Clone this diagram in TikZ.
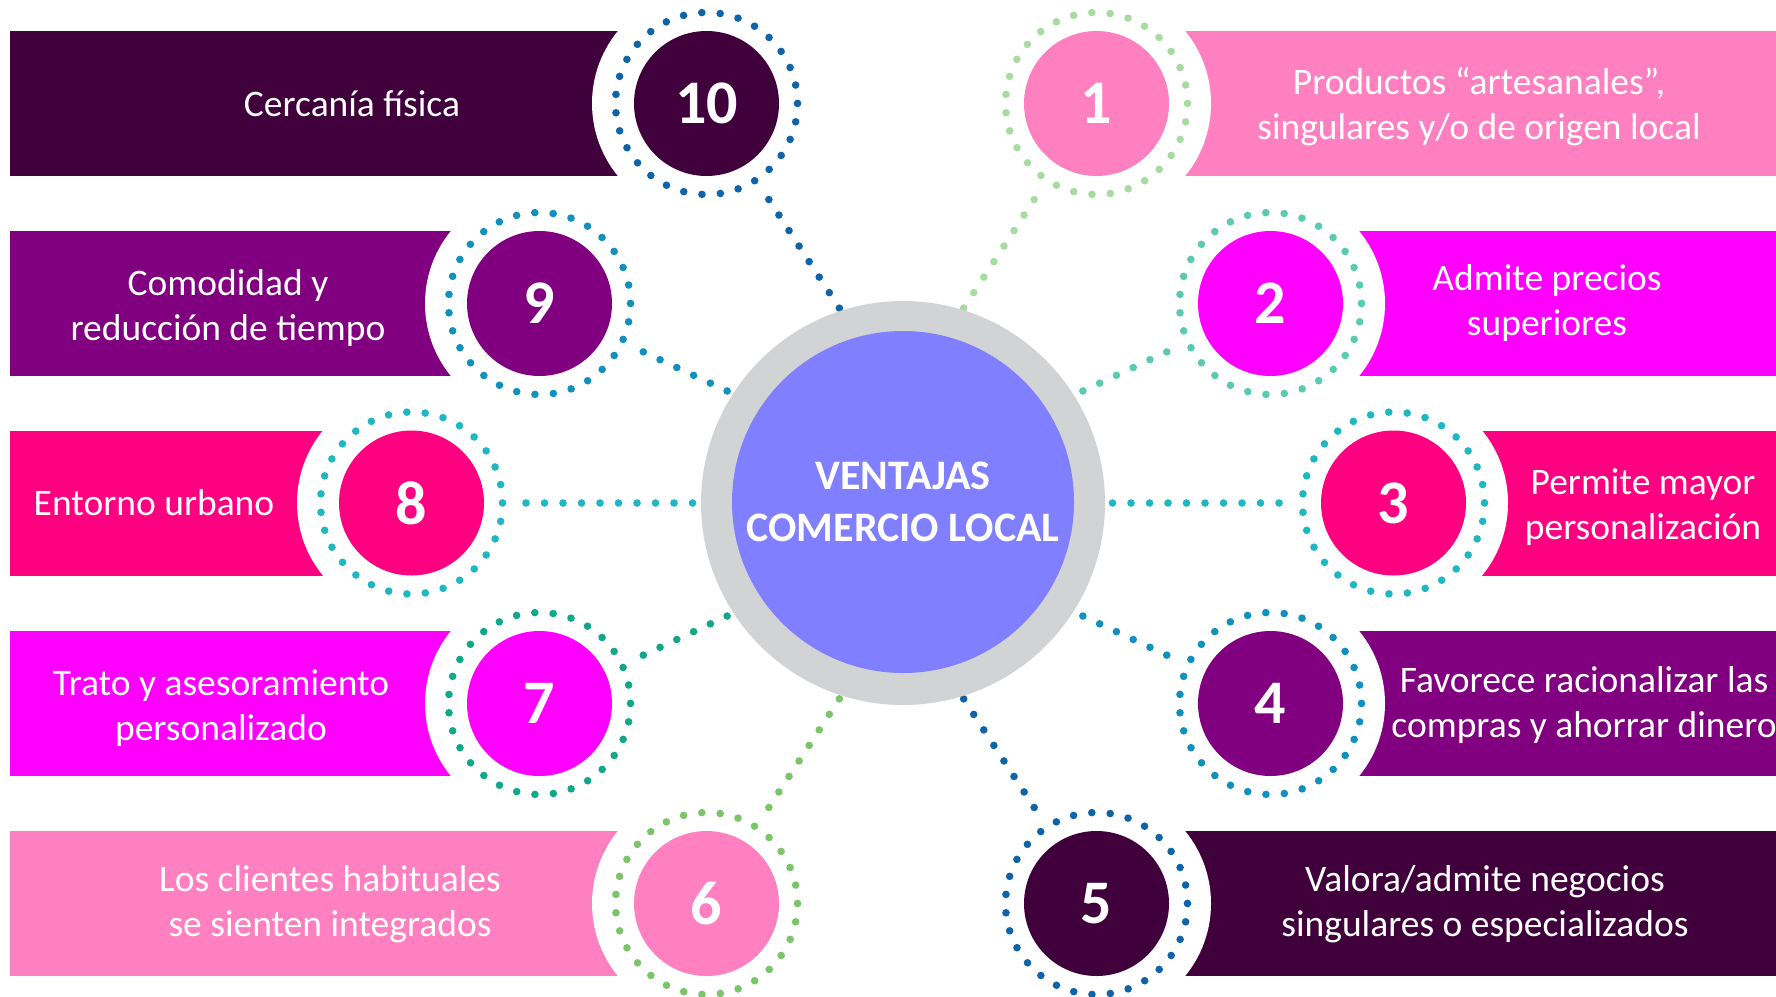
\documentclass[tikz,border=0pt]{standalone}
\usepackage{fontspec}
\setmainfont{Carlito}
\usetikzlibrary{calc}
\definecolor{cDark}{HTML}{3F003C}
\definecolor{cPurple}{HTML}{800080}
\definecolor{cRose}{HTML}{FF0080}
\definecolor{cMag}{HTML}{FF00FF}
\definecolor{cPink}{HTML}{FF80C0}
\definecolor{cGrey}{HTML}{D1D3D4}
\definecolor{cCore}{HTML}{7F7FFF}
\definecolor{dBlue}{HTML}{0F64A8}
\definecolor{dTealBlue}{HTML}{1090BE}
\definecolor{dTeal}{HTML}{1FB7C1}
\definecolor{dGreenTeal}{HTML}{0FA98A}
\definecolor{dAqua}{HTML}{5ACBB0}
\definecolor{dGreen}{HTML}{7CC46A}
\definecolor{dLightGreen}{HTML}{A9DAA1}
\tikzset{
  bandbox/.style={rectangle, minimum height=145pt, inner sep=0pt, outer sep=0pt},
  cutout/.style={circle, fill=white, minimum size=229pt, inner sep=0pt, outer sep=0pt},
  numc/.style={circle, minimum size=145pt, inner sep=0pt, text=white, font=\fontsize{62}{62}\selectfont\bfseries},
  ringdots/.style={line width=7.6pt, line cap=round, dash pattern=on 0pt off 18.44pt},
  conn/.style={line width=7.6pt, line cap=round, dash pattern=on 0pt off 18.5pt},
  lbl/.style={text=white, align=center, inner sep=0pt, font=\fontsize{37.5}{45}\selectfont},
}
\begin{document}
\begin{tikzpicture}[x=1pt,y=-1pt]
\useasboundingbox[fill=white] (0,0) rectangle (1776,996);
% centres
\coordinate (c10) at (706.5,103.5);
\coordinate (c9) at (539.5,303.5);
\coordinate (c8) at (411.5,503);
\coordinate (c7) at (539.5,703.5);
\coordinate (c6) at (706.5,903.5);
\coordinate (c1) at (1096.5,103.5);
\coordinate (c2) at (1270.5,303.5);
\coordinate (c3) at (1393.5,503);
\coordinate (c4) at (1270.5,703.5);
\coordinate (c5) at (1096.5,903.5);
% connector ends (hidden under the core)
\coordinate (e10) at (853.5,329.9);
\coordinate (e1) at (949.5,329.9);
\coordinate (e6) at (853.5,677.1);
\coordinate (e5) at (949.5,677.1);
\coordinate (e9) at (757,404.9);
\coordinate (e2) at (1053,404.9);
\coordinate (e7) at (757,602.1);
\coordinate (e4) at (1053,602.1);
\coordinate (e8) at (720,503);
\coordinate (e3) at (1086,503);
% bands
\node[bandbox, fill=cDark, minimum width=696.5pt, anchor=west] (b10) at (10,103.5) {};
\node[bandbox, fill=cPurple, minimum width=529.5pt, anchor=west] (b9) at (10,303.5) {};
\node[bandbox, fill=cRose, minimum width=401.5pt, anchor=west] (b8) at (10,503) {};
\node[bandbox, fill=cMag, minimum width=529.5pt, anchor=west] (b7) at (10,703.5) {};
\node[bandbox, fill=cPink, minimum width=696.5pt, anchor=west] (b6) at (10,903.5) {};
\node[bandbox, fill=cPink, minimum width=679.5pt, anchor=east] (b1) at (1776,103.5) {};
\node[bandbox, fill=cMag, minimum width=505.5pt, anchor=east] (b2) at (1776,303.5) {};
\node[bandbox, fill=cRose, minimum width=382.5pt, anchor=east] (b3) at (1776,503) {};
\node[bandbox, fill=cPurple, minimum width=505.5pt, anchor=east] (b4) at (1776,703.5) {};
\node[bandbox, fill=cDark, minimum width=679.5pt, anchor=east] (b5) at (1776,903.5) {};
% white cut-outs
\foreach \i in {1,...,10} { \node[cutout] (k\i) at (c\i) {}; }
% connectors
\draw[conn, draw=dBlue] (k10) -- (e10);
\draw[conn, draw=dTealBlue] (k9) -- (e9);
\draw[conn, draw=dTeal] (k8) -- (e8);
\draw[conn, draw=dGreenTeal] (k7) -- (e7);
\draw[conn, draw=dGreen] (k6) -- (e6);
\draw[conn, draw=dLightGreen] (k1) -- (e1);
\draw[conn, draw=dAqua] (k2) -- (e2);
\draw[conn, draw=dTeal] (k3) -- (e3);
\draw[conn, draw=dTealBlue] (k4) -- (e4);
\draw[conn, draw=dBlue] (k5) -- (e5);
% core
\node[circle, fill=cGrey, minimum size=404pt, inner sep=0pt] (core) at (903,503) {};
\node[circle, fill=cCore, minimum size=342pt, inner sep=0pt, text=white, align=center,
  font=\fontsize{42}{52}\selectfont\bfseries] (ctext) at (903,502) {VENTAJAS\\COMERCIO LOCAL};
% rings
\draw[ringdots, draw=dBlue] (c10) circle[radius=91];
\draw[ringdots, draw=dTealBlue] (c9) circle[radius=91];
\draw[ringdots, draw=dTeal] (c8) circle[radius=91];
\draw[ringdots, draw=dGreenTeal] (c7) circle[radius=91];
\draw[ringdots, draw=dGreen] (c6) circle[radius=91];
\draw[ringdots, draw=dLightGreen] (c1) circle[radius=91];
\draw[ringdots, draw=dAqua] (c2) circle[radius=91];
\draw[ringdots, draw=dTeal] (c3) circle[radius=91];
\draw[ringdots, draw=dTealBlue] (c4) circle[radius=91];
\draw[ringdots, draw=dBlue] (c5) circle[radius=91];
% number discs
\node[numc, fill=cDark] (n10) at (c10) {10};
\node[numc, fill=cPurple] (n9) at (c9) {9};
\node[numc, fill=cRose] (n8) at (c8) {8};
\node[numc, fill=cMag] (n7) at (c7) {7};
\node[numc, fill=cPink] (n6) at (c6) {6};
\node[numc, fill=cPink] (n1) at (c1) {1};
\node[numc, fill=cMag] (n2) at (c2) {2};
\node[numc, fill=cRose] (n3) at (c3) {3};
\node[numc, fill=cPurple] (n4) at (c4) {4};
\node[numc, fill=cDark] (n5) at (c5) {5};
% labels
\node[lbl] (t10) at (352,103.5) {Cercanía física};
\node[lbl] (t9) at (228,308) {Comodidad y\\reducción de tiempo};
\node[lbl] (t8) at (154,503) {Entorno urbano};
\node[lbl] (t7) at (221,708) {Trato y asesoramiento\\personalizado};
\node[lbl] (t6) at (330,904) {Los clientes habituales\\se sienten integrados};
\node[lbl] (t1) at (1479,107) {Productos “artesanales”,\\singulares y/o de origen local};
\node[lbl] (t2) at (1547,303) {Admite precios\\superiores};
\node[lbl] (t3) at (1643,507) {Permite mayor\\personalización};
\node[lbl] (t4) at (1584,705) {Favorece racionalizar las\\compras y ahorrar dinero};
\node[lbl] (t5) at (1485,904) {Valora/admite negocios\\singulares o especializados};
\end{tikzpicture}
\end{document}
